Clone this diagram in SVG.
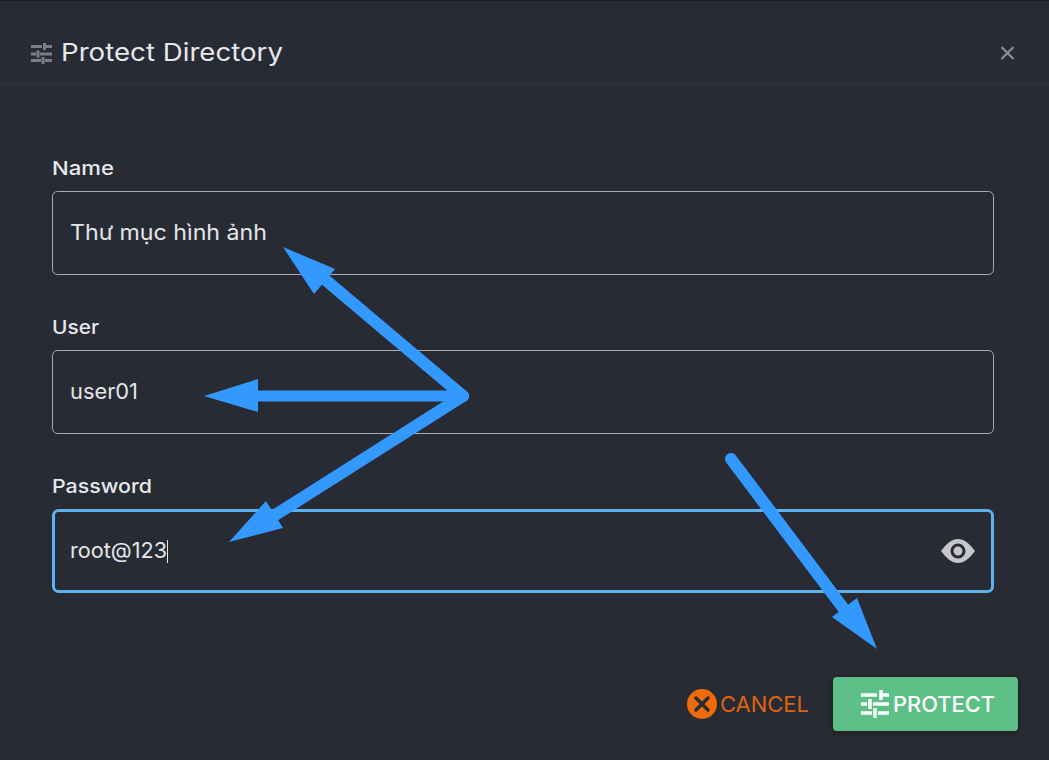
<svg xmlns="http://www.w3.org/2000/svg" width="1049" height="760" viewBox="0 0 1049 760">
<style>
text{font-family:"Inter","Noto Sans",sans-serif;}
.label{font-size:19px;font-weight:500;fill:#e6e8ec;}
.value{font-size:21.500px;fill:#e4e6ea;}
.field{fill:none;stroke:#a9abaf;stroke-width:1;}
.arrow{fill:#3399ff;}
.shaft{stroke:#3399ff;stroke-width:12;stroke-linecap:round;fill:none;}
</style>
<defs>
<filter id="sh" x="-10%" y="-20%" width="120%" height="150%"><feDropShadow dx="0" dy="2" stdDeviation="3" flood-color="#000" flood-opacity="0.35"/></filter>
</defs>
<rect width="1049" height="760" fill="#282b33"/>
<rect width="1049" height="1" fill="#1c1e24"/>
<g id="header">
<rect x="0" y="83" width="1049" height="1" fill="#33363e"/>
<path d="M31 46.500H42M46 46.500H52M44.500 43V50M31 54H36M40 54H52M38 50.500V57.500M31 60.500H41M45 60.500H52M43 57V64" stroke="#7b7e89" stroke-width="3" fill="none"/>
<text x="61" y="61" font-size="24.500" font-weight="400" fill="#e6e8ec" textLength="222" lengthAdjust="spacingAndGlyphs">Protect Directory</text>
<path d="M1001.500 47L1013.500 59M1013.500 47L1001.500 59" stroke="#8b8e98" stroke-width="2.200" fill="none"/>
</g>
<g id="name-field">
<text class="label" x="52" y="175" textLength="62" lengthAdjust="spacingAndGlyphs">Name</text>
<rect class="field" x="52.500" y="191.500" width="941" height="83" rx="5"/>
<text class="value" x="70" y="240" textLength="197" lengthAdjust="spacingAndGlyphs">Thư mục hình ảnh</text>
</g>
<g id="user-field">
<text class="label" x="52" y="334" textLength="47" lengthAdjust="spacingAndGlyphs">User</text>
<rect class="field" x="52.500" y="350.500" width="941" height="83" rx="5"/>
<text class="value" x="70" y="399" textLength="68" lengthAdjust="spacingAndGlyphs">user01</text>
</g>
<g id="password-field">
<text class="label" x="52" y="493" textLength="100" lengthAdjust="spacingAndGlyphs">Password</text>
<rect x="53.500" y="510.500" width="939" height="81" rx="5" fill="none" stroke="#5db2ec" stroke-width="3"/>
<text class="value" x="70" y="558" textLength="97" lengthAdjust="spacingAndGlyphs">root@123</text>
<rect x="167" y="540" width="1" height="23" fill="#e6e8ec"/>
<path d="M941 551C947 543 952 539 958 539C964 539 969 543 975 551C969 559 964 563 958 563C952 563 947 559 941 551Z" fill="#c6c7c9"/>
<circle cx="958" cy="551" r="6" fill="#c6c7c9" stroke="#282b33" stroke-width="3"/>
</g>
<g id="cancel-button">
<circle cx="702" cy="704" r="15" fill="#ee6a0a"/>
<path d="M696 698L708 710M708 698L696 710" stroke="#282b33" stroke-width="3.500" stroke-linecap="round"/>
<text x="720" y="712" font-size="22" fill="#de6410" textLength="89" lengthAdjust="spacingAndGlyphs">CANCEL</text>
</g>
<g id="protect-button">
<rect x="833" y="677" width="185" height="54" rx="4" fill="#5cbf85" filter="url(#sh)"/>
<path d="M861 695H877M883 695H889M881 690V700M861 704H867M873 704H889M870 699V709M861 713H872M878 713H889M875 708V718" stroke="#fff" stroke-width="3.500" fill="none"/>
<text x="893" y="712" font-size="22" font-weight="500" fill="#fff" textLength="102" lengthAdjust="spacingAndGlyphs">PROTECT</text>
</g>
<g id="connectors">
<path class="shaft" d="M463 396L322 277"/>
<path class="shaft" style="stroke-width:11" d="M463 396H250"/>
<path class="shaft" d="M463 396L272 517"/>
<path class="shaft" d="M731 459L850 617"/>
<polygon class="arrow" points="283,247 335,269 314,294"/>
<polygon class="arrow" points="204,396 258,379 258,412"/>
<polygon class="arrow" points="229,542 266,501 283,528"/>
<polygon class="arrow" points="877,649 832,617 857,598"/>
</g>
</svg>
